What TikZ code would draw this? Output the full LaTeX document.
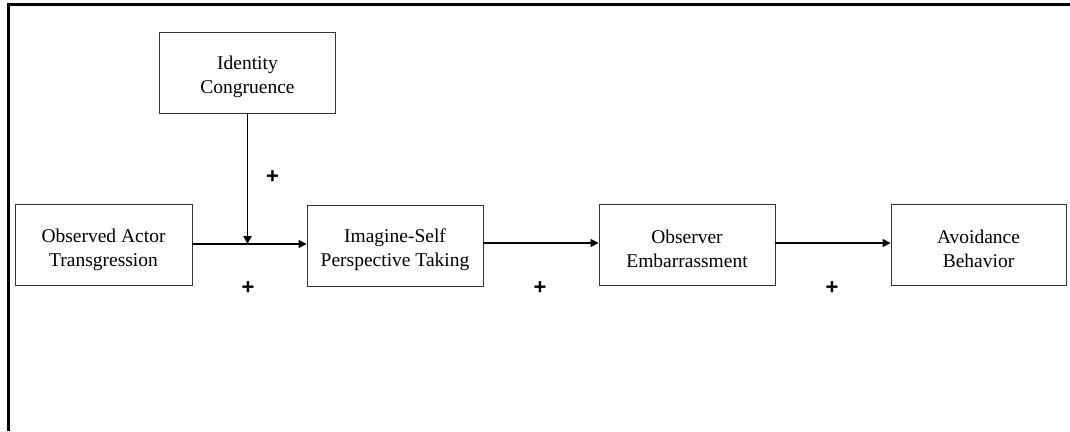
\documentclass[tikz,border=0pt]{standalone}
\usepackage{fontspec}
\setmainfont{Liberation Serif}
\newfontfamily\plusfont{Liberation Sans}
\usetikzlibrary{arrows.meta}
\newcommand{\topstrut}{\rule{0pt}{23pt}}
\begin{document}
\begin{tikzpicture}[x=1pt,y=-1pt,
  box/.style={draw=black!80,line width=0.9pt,minimum width=176pt,minimum height=81pt,align=center,inner sep=0pt,font=\fontsize{19.5}{24}\selectfont},
  conn/.style={line width=1.6pt,-{Triangle[length=8pt,width=8pt]}},
  plus/.style={font=\fontsize{22}{22}\plusfont\bfseries}]
\useasboundingbox (0,0) rectangle (1070,431);
\draw[line width=2.6pt] (8.5,431) -- (8.5,4.5) -- (1070,4.5);
\node[box] (ic) at (247.5,72.5) {\topstrut Identity\\Congruence};
\node[box,minimum width=177pt] (oat) at (103.5,245) {\topstrut Observed Actor\\Transgression};
\node[box] (ist) at (395,245.5) {\topstrut Imagine-Self\\Perspective Taking};
\node[box] (oe) at (687,244.5) {\topstrut Observer\\Embarrassment};
\node[box,minimum width=175pt] (ab) at (978.5,244.5) {\topstrut Avoidance\\Behavior};
\coordinate (j) at (ic.south |- 0,244);
\draw[conn] (oat.east |- j) -- (ist.west |- j);
\draw[conn,line width=1.8pt] (ic.south) -- (j);
\draw[conn] (ist.east |- 0,243) -- (oe.west |- 0,243);
\draw[conn] (oe.east |- 0,243) -- (ab.west |- 0,243);
\node[plus] (p1) at (272.5,177) {+};
\node[plus] (p2) at (248,288) {+};
\node[plus] (p3) at (540,288) {+};
\node[plus] (p4) at (832,288) {+};
\end{tikzpicture}
\end{document}
